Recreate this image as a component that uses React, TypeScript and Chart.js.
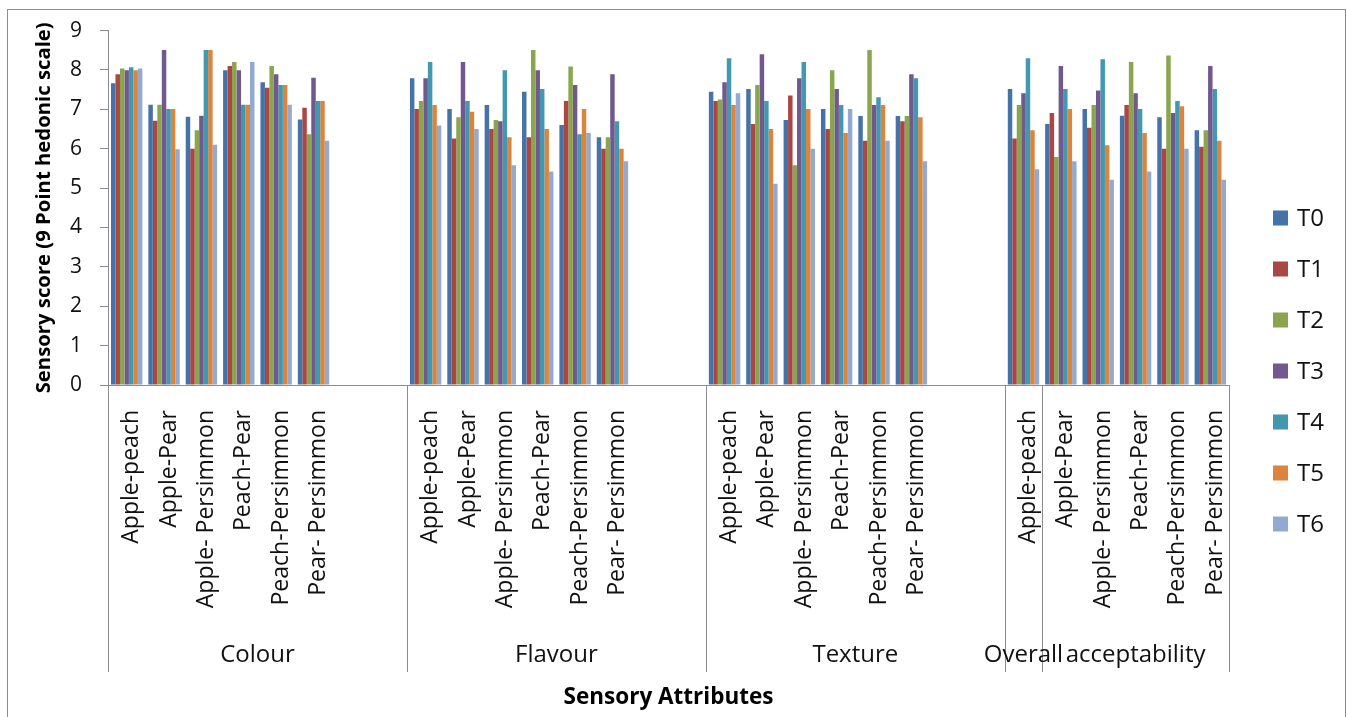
import React, { useEffect, useRef } from 'react';
import { Chart, registerables } from 'chart.js';

Chart.register(...registerables);

// ---- data ----
const combos = ['Apple-peach', 'Apple-Pear', 'Apple- Persimmon', 'Peach-Pear', 'Peach-Persimmon', 'Pear- Persimmon'];
const groupLabels = ['Colour', 'Flavour', 'Texture', 'Overall', 'acceptability'];
const groupSlots = [8, 8, 8, 1, 5];
const groupItems = [6, 6, 6, 1, 5];
const seriesNames = ['T0', 'T1', 'T2', 'T3', 'T4', 'T5', 'T6'];
const seriesColors = ['#4572A7', '#AA4643', '#89A54E', '#71588F', '#4198AF', '#DB843D', '#93A9CF'];
const yTicks = [0, 1, 2, 3, 4, 5, 6, 7, 8, 9];

// order: Colour x6, Flavour x6, Texture x6, Overall acceptability x6
const T0 = [7.66, 7.12, 6.81, 7.99, 7.69, 6.74, 7.79, 7.01, 7.11, 7.45, 6.6, 6.29, 7.45, 7.52, 6.73, 7.01, 6.83, 6.83, 7.52, 6.63, 7.01, 6.84, 6.8, 6.47];
const T1 = [7.89, 6.71, 6.0, 8.1, 7.55, 7.04, 7.01, 6.26, 6.5, 6.29, 7.21, 6.0, 7.21, 6.63, 7.35, 6.5, 6.2, 6.7, 6.26, 6.91, 6.53, 7.11, 6.0, 6.05];
const T2 = [8.04, 7.12, 6.47, 8.2, 8.1, 6.37, 7.21, 6.8, 6.73, 8.51, 8.09, 6.29, 7.25, 7.62, 5.58, 7.99, 8.51, 6.83, 7.11, 5.79, 7.11, 8.2, 8.37, 6.47];
const T3 = [7.99, 8.51, 6.84, 7.99, 7.89, 7.8, 7.79, 8.2, 6.7, 7.99, 7.62, 7.89, 7.69, 8.4, 7.79, 7.52, 7.11, 7.89, 7.41, 8.1, 7.48, 7.41, 6.91, 8.1];
const T4 = [8.07, 7.01, 8.51, 7.12, 7.62, 7.21, 8.2, 7.21, 7.99, 7.52, 6.37, 6.7, 8.3, 7.21, 8.2, 7.11, 7.31, 7.79, 8.3, 7.52, 8.27, 7.01, 7.21, 7.52];
const T5 = [7.99, 7.01, 8.51, 7.12, 7.62, 7.21, 7.11, 6.94, 6.29, 6.5, 7.01, 6.0, 7.11, 6.5, 7.01, 6.4, 7.11, 6.8, 6.47, 7.01, 6.09, 6.4, 7.08, 6.2];
const T6 = [8.04, 5.99, 6.1, 8.2, 7.12, 6.2, 6.59, 6.5, 5.58, 5.42, 6.4, 5.68, 7.41, 5.11, 6.0, 7.01, 6.2, 5.68, 5.48, 5.68, 5.21, 5.42, 6.0, 5.21];
const seriesValues = [T0, T1, T2, T3, T4, T5, T6];

const FONT = "'Open Sans', 'Noto Sans', sans-serif";
const AXIS_GREY = '#8c8c8c';

function buildSlots() {
  const labels: string[] = [];
  const index: (number | null)[] = [];
  let ci = 0;
  groupSlots.forEach((slots, g) => {
    for (let s = 0; s < slots; s++) {
      if (s < groupItems[g]) {
        labels.push(combos[ci % combos.length]);
        index.push(ci);
        ci++;
      } else {
        labels.push('');
        index.push(null);
      }
    }
  });
  return { labels, index };
}

const decorPlugin = {
  id: 'decor',
  beforeDraw(chart: any) {
    const ctx = chart.ctx;
    ctx.save();
    ctx.fillStyle = '#ffffff';
    ctx.fillRect(0, 0, chart.width, chart.height);
    ctx.strokeStyle = AXIS_GREY;
    ctx.lineWidth = 1;
    ctx.strokeRect(7.5, 9.5, 1338, 720);
    ctx.restore();
  },
  afterDraw(chart: any) {
    const ctx = chart.ctx;
    const xs = chart.scales.x;
    const w = xs.getPixelForTick(1) - xs.getPixelForTick(0);
    const yTop = xs.top;
    const yBot = 672;
    ctx.save();
    ctx.strokeStyle = AXIS_GREY;
    ctx.lineWidth = 1;
    const vline = (px: number) => {
      const x = Math.round(px) + 0.5;
      ctx.beginPath();
      ctx.moveTo(x, yTop);
      ctx.lineTo(x, yBot);
      ctx.stroke();
    };
    vline(xs.getPixelForTick(0) - w / 2);
    ctx.fillStyle = '#111';
    ctx.font = `24px ${FONT}`;
    ctx.textAlign = 'center';
    ctx.textBaseline = 'middle';
    let start = 0;
    groupSlots.forEach((slots, g) => {
      const end = start + slots;
      vline(xs.getPixelForTick(end - 1) + w / 2);
      const cx = (xs.getPixelForTick(start) - w / 2 + xs.getPixelForTick(end - 1) + w / 2) / 2;
      ctx.fillText(groupLabels[g], cx, 655);
      start = end;
    });

    // legend
    ctx.textAlign = 'left';
    chart.data.datasets.forEach((ds: any, i: number) => {
      const cy = 218 + 51 * i;
      ctx.fillStyle = ds.backgroundColor;
      ctx.fillRect(1273, cy - 7.5, 15, 15);
      ctx.fillStyle = '#111';
      ctx.font = `24px ${FONT}`;
      ctx.fillText(ds.label, 1297, cy + 1);
    });
    ctx.restore();
  },
};

export default function App() {
  const ref = useRef<HTMLCanvasElement | null>(null);

  useEffect(() => {
    if (!ref.current) return;
    const { labels, index } = buildSlots();
    const datasets = seriesNames.map((name, si) => ({
      label: name,
      data: index.map((k) => (k === null ? null : seriesValues[si][k])),
      backgroundColor: seriesColors[si],
      borderWidth: 0,
      categoryPercentage: 0.84,
      barPercentage: 1.0,
    }));

    const chart = new Chart(ref.current, {
      type: 'bar',
      data: { labels, datasets },
      options: {
        responsive: false,
        animation: false,
        devicePixelRatio: 1,
        layout: { padding: { left: 8, top: 28, right: 118, bottom: 0 } },
        plugins: {
          legend: { display: false },
          tooltip: { enabled: false },
        },
        scales: {
          x: {
            grid: { display: false },
            border: { display: true, color: AXIS_GREY },
            ticks: {
              autoSkip: false,
              minRotation: 90,
              maxRotation: 90,
              padding: 17,
              labelOffset: 5,
              color: '#111',
              font: { family: FONT, size: 23 },
            },
            title: {
              display: true,
              text: 'Sensory Attributes',
              color: '#000',
              font: { family: FONT, size: 22.5, weight: 'bold' },
              padding: { top: 0, bottom: 6 },
            },
            afterFit: (scale: any) => {
              scale.height = 332;
            },
          },
          y: {
            min: 0,
            max: 9,
            afterBuildTicks: (scale: any) => {
              scale.ticks = yTicks.map((v) => ({ value: v }));
            },
            grid: {
              display: true,
              drawOnChartArea: false,
              drawTicks: true,
              tickLength: 8,
              color: AXIS_GREY,
            },
            border: { display: true, color: AXIS_GREY },
            ticks: {
              padding: 18,
              color: '#111',
              font: { family: FONT, size: 21 },
            },
            title: {
              display: true,
              text: 'Sensory score (9 Point hedonic scale)',
              color: '#000',
              font: { family: FONT, size: 20.3, weight: 'bold' },
              padding: { top: 24, bottom: 0 },
            },
            afterFit: (scale: any) => {
              scale.width = 100;
            },
          },
        },
      },
      plugins: [decorPlugin],
    } as any);

    return () => chart.destroy();
  }, []);

  return (
    <div style={{ position: 'fixed', left: 0, top: 0, width: 1347, height: 717, background: '#fff' }}>
      <canvas ref={ref} width={1347} height={717} style={{ width: 1347, height: 717, display: 'block' }} />
    </div>
  );
}
